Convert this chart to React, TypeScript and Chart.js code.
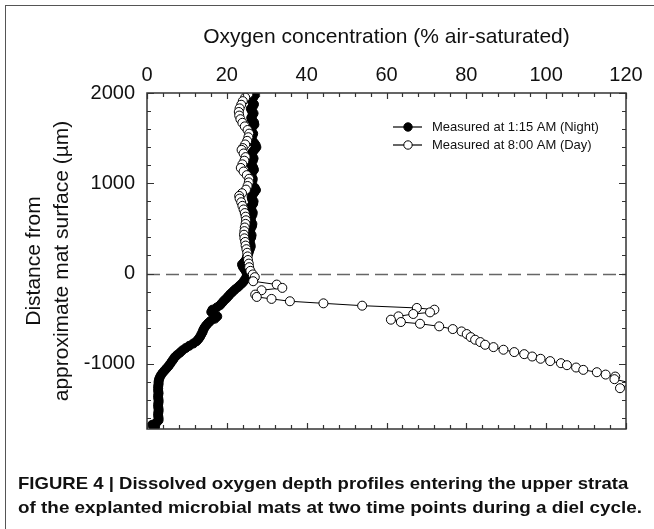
import React, { useEffect, useRef } from "react";
import { Chart, registerables } from "chart.js";

Chart.register(...registerables);

const FONT = "'Liberation Sans', Arial, sans-serif";

const xTickLabels = [0, 20, 40, 60, 80, 100, 120];
const yTickLabels = [2000, 1000, 0, -1000];
const xTitle = "Oxygen concentration (% air-saturated)";
const yTitle = ["Distance from", "approximate mat surface (\u00b5m)"];
const legendLabels = ["Measured at 1:15 AM (Night)", "Measured at 8:00 AM (Day)"];
const captionLines = [
  "FIGURE 4 | Dissolved oxygen depth profiles entering the upper strata",
  "of the explanted microbial mats at two time points during a diel cycle.",
];
const captionWidths = [610, 624];

// Night profile (1:15 AM): depth (µm) and oxygen (% air saturation)
const nightDepth = [
  2000, 1975, 1950, 1925, 1900, 1875, 1850, 1825, 1800, 1775, 1750, 1725, 1700, 1675, 1650, 1625,
  1600, 1575, 1550, 1525, 1500, 1475, 1450, 1425, 1400, 1375, 1350, 1325, 1300, 1275, 1250, 1225,
  1200, 1175, 1150, 1125, 1100, 1075, 1050, 1025, 1000, 975, 950, 925, 900, 875, 850, 825,
  800, 775, 750, 725, 700, 675, 650, 625, 600, 575, 550, 525, 500, 475, 450, 425,
  400, 375, 350, 325, 300, 275, 250, 225, 200, 175, 150, 125, 100, 75, 50, 25, 0,
  -25, -50, -75, -100, -125, -150, -175, -200, -225, -250, -275, -300, -325, -350, -375, -400,
  -425, -450, -475, -500, -525, -550, -575, -600, -625, -650, -675, -700, -725, -750, -775, -800,
  -825, -850, -875, -900, -925, -950, -975, -1000, -1025, -1050, -1075, -1100, -1125, -1150, -1175, -1200,
  -1225, -1250, -1275, -1300, -1325, -1350, -1375, -1400, -1425, -1450, -1475, -1500, -1525, -1550, -1575, -1600,
  -1625, -1650, -1675, -1690, -1700,
];
const nightOxygen = [
  26.4, 27.0, 26.6, 26.2, 26.4, 26.8, 26.5, 26.0, 26.3, 26.7, 26.4, 26.1, 26.3, 26.8, 26.9, 26.4,
  26.0, 26.2, 26.6, 26.4, 26.1, 26.3, 26.8, 27.2, 27.4, 27.0, 26.5, 26.2, 26.4, 26.7, 26.5, 26.1,
  26.2, 26.6, 26.8, 26.4, 26.0, 26.2, 26.5, 26.4, 26.1, 26.3, 27.0, 27.3, 26.9, 26.5, 26.2, 26.3,
  26.7, 26.6, 26.2, 26.0, 26.2, 26.5, 26.4, 26.1, 25.9, 26.1, 26.4, 26.3, 26.0, 25.8, 25.9, 26.2,
  26.1, 25.8, 25.7, 25.9, 26.0, 25.8, 25.6, 25.4, 25.2, 25.0, 24.8, 24.3, 23.8, 24.0, 24.4, 24.8, 25.0,
  25.0, 24.8, 24.4, 24.0, 23.4, 22.8, 22.1, 21.5, 20.9, 20.4, 19.9, 19.3, 18.8, 18.3, 17.5, 16.4,
  16.1, 16.8, 17.6, 17.0, 15.9, 15.3, 14.8, 14.4, 14.1, 13.9, 13.6, 13.3, 12.9, 12.4, 11.6, 10.6,
  9.7, 8.9, 8.3, 7.6, 7.0, 6.6, 6.2, 5.8, 5.4, 4.9, 4.4, 3.9, 3.5, 3.2, 3.0, 2.9,
  2.9, 2.8, 2.8, 2.8, 2.9, 2.8, 2.8, 2.9, 2.9, 2.8, 2.8, 2.9, 2.9, 2.8, 2.8, 2.9,
  2.9, 2.4, 1.3, 1.8, 2.0,
];

// Day profile (8:00 AM)
const dayDepth = [
  1990, 1950, 1910, 1870, 1830, 1790, 1750, 1710, 1670, 1630, 1590, 1550, 1510, 1470, 1430, 1390,
  1370, 1330, 1290, 1250, 1210, 1170, 1130, 1090, 1050, 1010, 970, 930, 890, 860, 830, 790,
  750, 710, 670, 630, 590, 550, 510, 470, 430, 390, 350, 310, 270, 230, 190, 150,
  110, 70, 30, -10, -40,
  -85, -122, -159, -185, -233, -259, -281, -307, -330, -356, -381, -400, -430, -448, -474, -511,
  -537, -556, -585, -615, -641, -670, -704, -733, -759, -789, -815, -844, -870, -893, -919, -944,
  -970, -993, -1015, -1041, -1067, -1093, -1119, -1141, -1170, -1215, -1270,
];
const dayOxygen = [
  25.4, 24.6, 24.0, 23.6, 23.2, 23.0, 23.1, 23.4, 23.9, 24.5, 25.2, 25.6, 25.4, 25.1, 24.6, 24.0,
  23.7, 24.2, 24.7, 24.4, 23.9, 23.5, 24.2, 25.0, 25.6, 25.5, 25.2, 24.8, 23.8, 23.1, 23.2, 23.6,
  23.9, 24.2, 24.5, 24.7, 24.8, 24.7, 24.5, 24.4, 24.3, 24.4, 24.6, 24.7, 24.9, 25.1, 25.2, 25.3,
  25.5, 25.6, 25.9, 26.5, 27.0,
  26.6, 32.5, 33.9, 28.7, 27.1, 27.5, 31.2, 35.8, 44.2, 53.9, 67.6, 72.0, 70.9, 66.7, 63.0, 61.1,
  63.6, 68.4, 73.2, 76.6, 78.8, 80.1, 81.1, 82.2, 83.5, 84.7, 86.8, 89.3, 92.0, 94.5, 96.5, 98.6,
  101.0, 103.7, 105.2, 107.5, 109.3, 112.7, 114.9, 117.3, 117.1, 121.5, 118.5,
];

const toPoints = (xs: number[], ys: number[]) => xs.map((x, i) => ({ x, y: ys[i] }));

const decorPlugin = {
  id: "decor",
  beforeDatasetsDraw(chart: any) {
    const { ctx, chartArea } = chart;
    const y = chart.scales.y;
    const py = Math.round(y.getPixelForValue(0)) + 0.5;
    ctx.save();
    ctx.strokeStyle = "#666";
    ctx.lineWidth = 1.3;
    ctx.setLineDash([13, 6]);
    ctx.beginPath();
    ctx.moveTo(chartArea.left, py);
    ctx.lineTo(chartArea.right, py);
    ctx.stroke();
    ctx.restore();
  },
  afterDraw(chart: any) {
    const { ctx, chartArea } = chart;
    const { left, right, top, bottom } = chartArea;
    const xs = chart.scales.x;
    const ys = chart.scales.y;
    ctx.save();
    ctx.strokeStyle = "#333";
    ctx.lineWidth = 1.2;
    ctx.beginPath();
    for (let v = 0; v <= 120; v += 4) {
      const px = Math.round(xs.getPixelForValue(v)) + 0.5;
      const len = v % 20 === 0 ? 6 : 4;
      ctx.moveTo(px, top);
      ctx.lineTo(px, top + len);
      ctx.moveTo(px, bottom);
      ctx.lineTo(px, bottom - len);
    }
    for (let v = -1600; v <= 2000; v += 200) {
      const py = Math.round(ys.getPixelForValue(v)) + 0.5;
      const len = v % 1000 === 0 ? 7 : 4;
      ctx.moveTo(left, py);
      ctx.lineTo(left + len, py);
      ctx.moveTo(right, py);
      ctx.lineTo(right - len, py);
    }
    ctx.stroke();
    ctx.lineWidth = 1.5;
    ctx.strokeRect(left, top, right - left, bottom - top);

    // legend
    const lx = left + 246;
    const rows = [
      { y: top + 34, fill: "#000" },
      { y: top + 52, fill: "#fff" },
    ];
    rows.forEach((r, i) => {
      ctx.strokeStyle = "#000";
      ctx.lineWidth = 1.2;
      ctx.beginPath();
      ctx.moveTo(lx, r.y);
      ctx.lineTo(lx + 29, r.y);
      ctx.stroke();
      ctx.beginPath();
      ctx.arc(lx + 15, r.y, 4.2, 0, Math.PI * 2);
      ctx.fillStyle = r.fill;
      ctx.fill();
      ctx.lineWidth = 1;
      ctx.stroke();
      ctx.fillStyle = "#111";
      ctx.font = `13px ${FONT}`;
      ctx.textBaseline = "middle";
      ctx.textAlign = "left";
      ctx.fillText(legendLabels[i], lx + 39, r.y);
    });
    ctx.restore();
  },
};

export default function App() {
  const ref = useRef<HTMLCanvasElement>(null);
  const capRefs = useRef<(HTMLSpanElement | null)[]>([]);

  useEffect(() => {
    capRefs.current.forEach((el, i) => {
      if (!el) return;
      const w = el.offsetWidth;
      if (w > 0) el.style.transform = `scaleX(${captionWidths[i] / w})`;
    });
  }, []);

  useEffect(() => {
    if (!ref.current) return;
    const chart = new Chart(ref.current, {
      type: "scatter",
      data: {
        datasets: [
          {
            label: legendLabels[1],
            data: toPoints(dayOxygen, dayDepth),
            showLine: true,
            borderColor: "#000",
            borderWidth: 1,
            backgroundColor: "#fff",
            pointBackgroundColor: "#fff",
            pointBorderColor: "#000",
            pointBorderWidth: 1,
            pointRadius: 4.5,
            order: 0,
          },
          {
            label: legendLabels[0],
            data: toPoints(nightOxygen, nightDepth),
            showLine: true,
            borderColor: "#000",
            borderWidth: 1,
            backgroundColor: "#000",
            pointBackgroundColor: "#000",
            pointBorderColor: "#000",
            pointBorderWidth: 1,
            pointRadius: 4.5,
            order: 1,
          },
        ],
      },
      options: {
        animation: false,
        responsive: false,
        devicePixelRatio: 1,
        events: [],
        layout: { padding: { left: 0, top: 0, right: 28, bottom: 100 } },
        plugins: { legend: { display: false }, tooltip: { enabled: false } },
        scales: {
          x: {
            type: "linear",
            position: "top",
            min: 0,
            max: 120,
            afterBuildTicks: (s: any) => {
              s.ticks = xTickLabels.map((v) => ({ value: v }));
            },
            afterFit: (s: any) => {
              s.height = 93;
              s.paddingLeft = 0;
              s.paddingRight = 0;
            },
            grid: { display: false, drawTicks: false },
            border: { display: false },
            ticks: {
              padding: 6,
              autoSkip: false,
              maxRotation: 0,
              color: "#111",
              font: { family: FONT, size: 20 },
              callback: (v: any) => String(v),
            },
            title: {
              display: true,
              text: xTitle,
              color: "#111",
              font: { family: FONT, size: 21 },
              padding: { top: 25, bottom: 0 },
            },
          },
          y: {
            type: "linear",
            min: -1722,
            max: 2000,
            afterBuildTicks: (s: any) => {
              s.ticks = yTickLabels.map((v) => ({ value: v }));
            },
            afterFit: (s: any) => {
              s.width = 147;
              s.paddingTop = 0;
              s.paddingBottom = 0;
            },
            grid: { display: false, drawTicks: false },
            border: { display: false },
            ticks: {
              padding: 12,
              autoSkip: false,
              color: "#111",
              font: { family: FONT, size: 20 },
              callback: (v: any) => String(v),
            },
            title: {
              display: true,
              text: yTitle,
              color: "#111",
              font: { family: FONT, size: 21, lineHeight: 1.3 },
              padding: { top: 21, bottom: 0 },
            },
          },
        },
      },
      plugins: [decorPlugin],
    });
    return () => chart.destroy();
  }, []);

  return (
    <div style={{ position: "fixed", left: 0, top: 0, width: 654, height: 529, background: "#fff", overflow: "hidden" }}>
      <div
        style={{
          position: "absolute",
          left: 5,
          top: 5,
          width: 700,
          height: 600,
          borderTop: "1.5px solid #555",
          borderLeft: "1.5px solid #555",
        }}
      />
      <canvas ref={ref} width={654} height={529} style={{ position: "absolute", left: 0, top: 0 }} />
      <div
        style={{
          position: "absolute",
          left: 18,
          top: 472,
          fontFamily: FONT,
          fontWeight: "bold",
          fontSize: 17,
          lineHeight: "23.5px",
          color: "#111",
          whiteSpace: "nowrap",
        }}
      >
        {captionLines.map((l, i) => (
          <div key={i}>
            <span
              ref={(el) => {
                capRefs.current[i] = el;
              }}
              style={{ display: "inline-block", transformOrigin: "left center" }}
            >
              {l}
            </span>
          </div>
        ))}
      </div>
    </div>
  );
}
